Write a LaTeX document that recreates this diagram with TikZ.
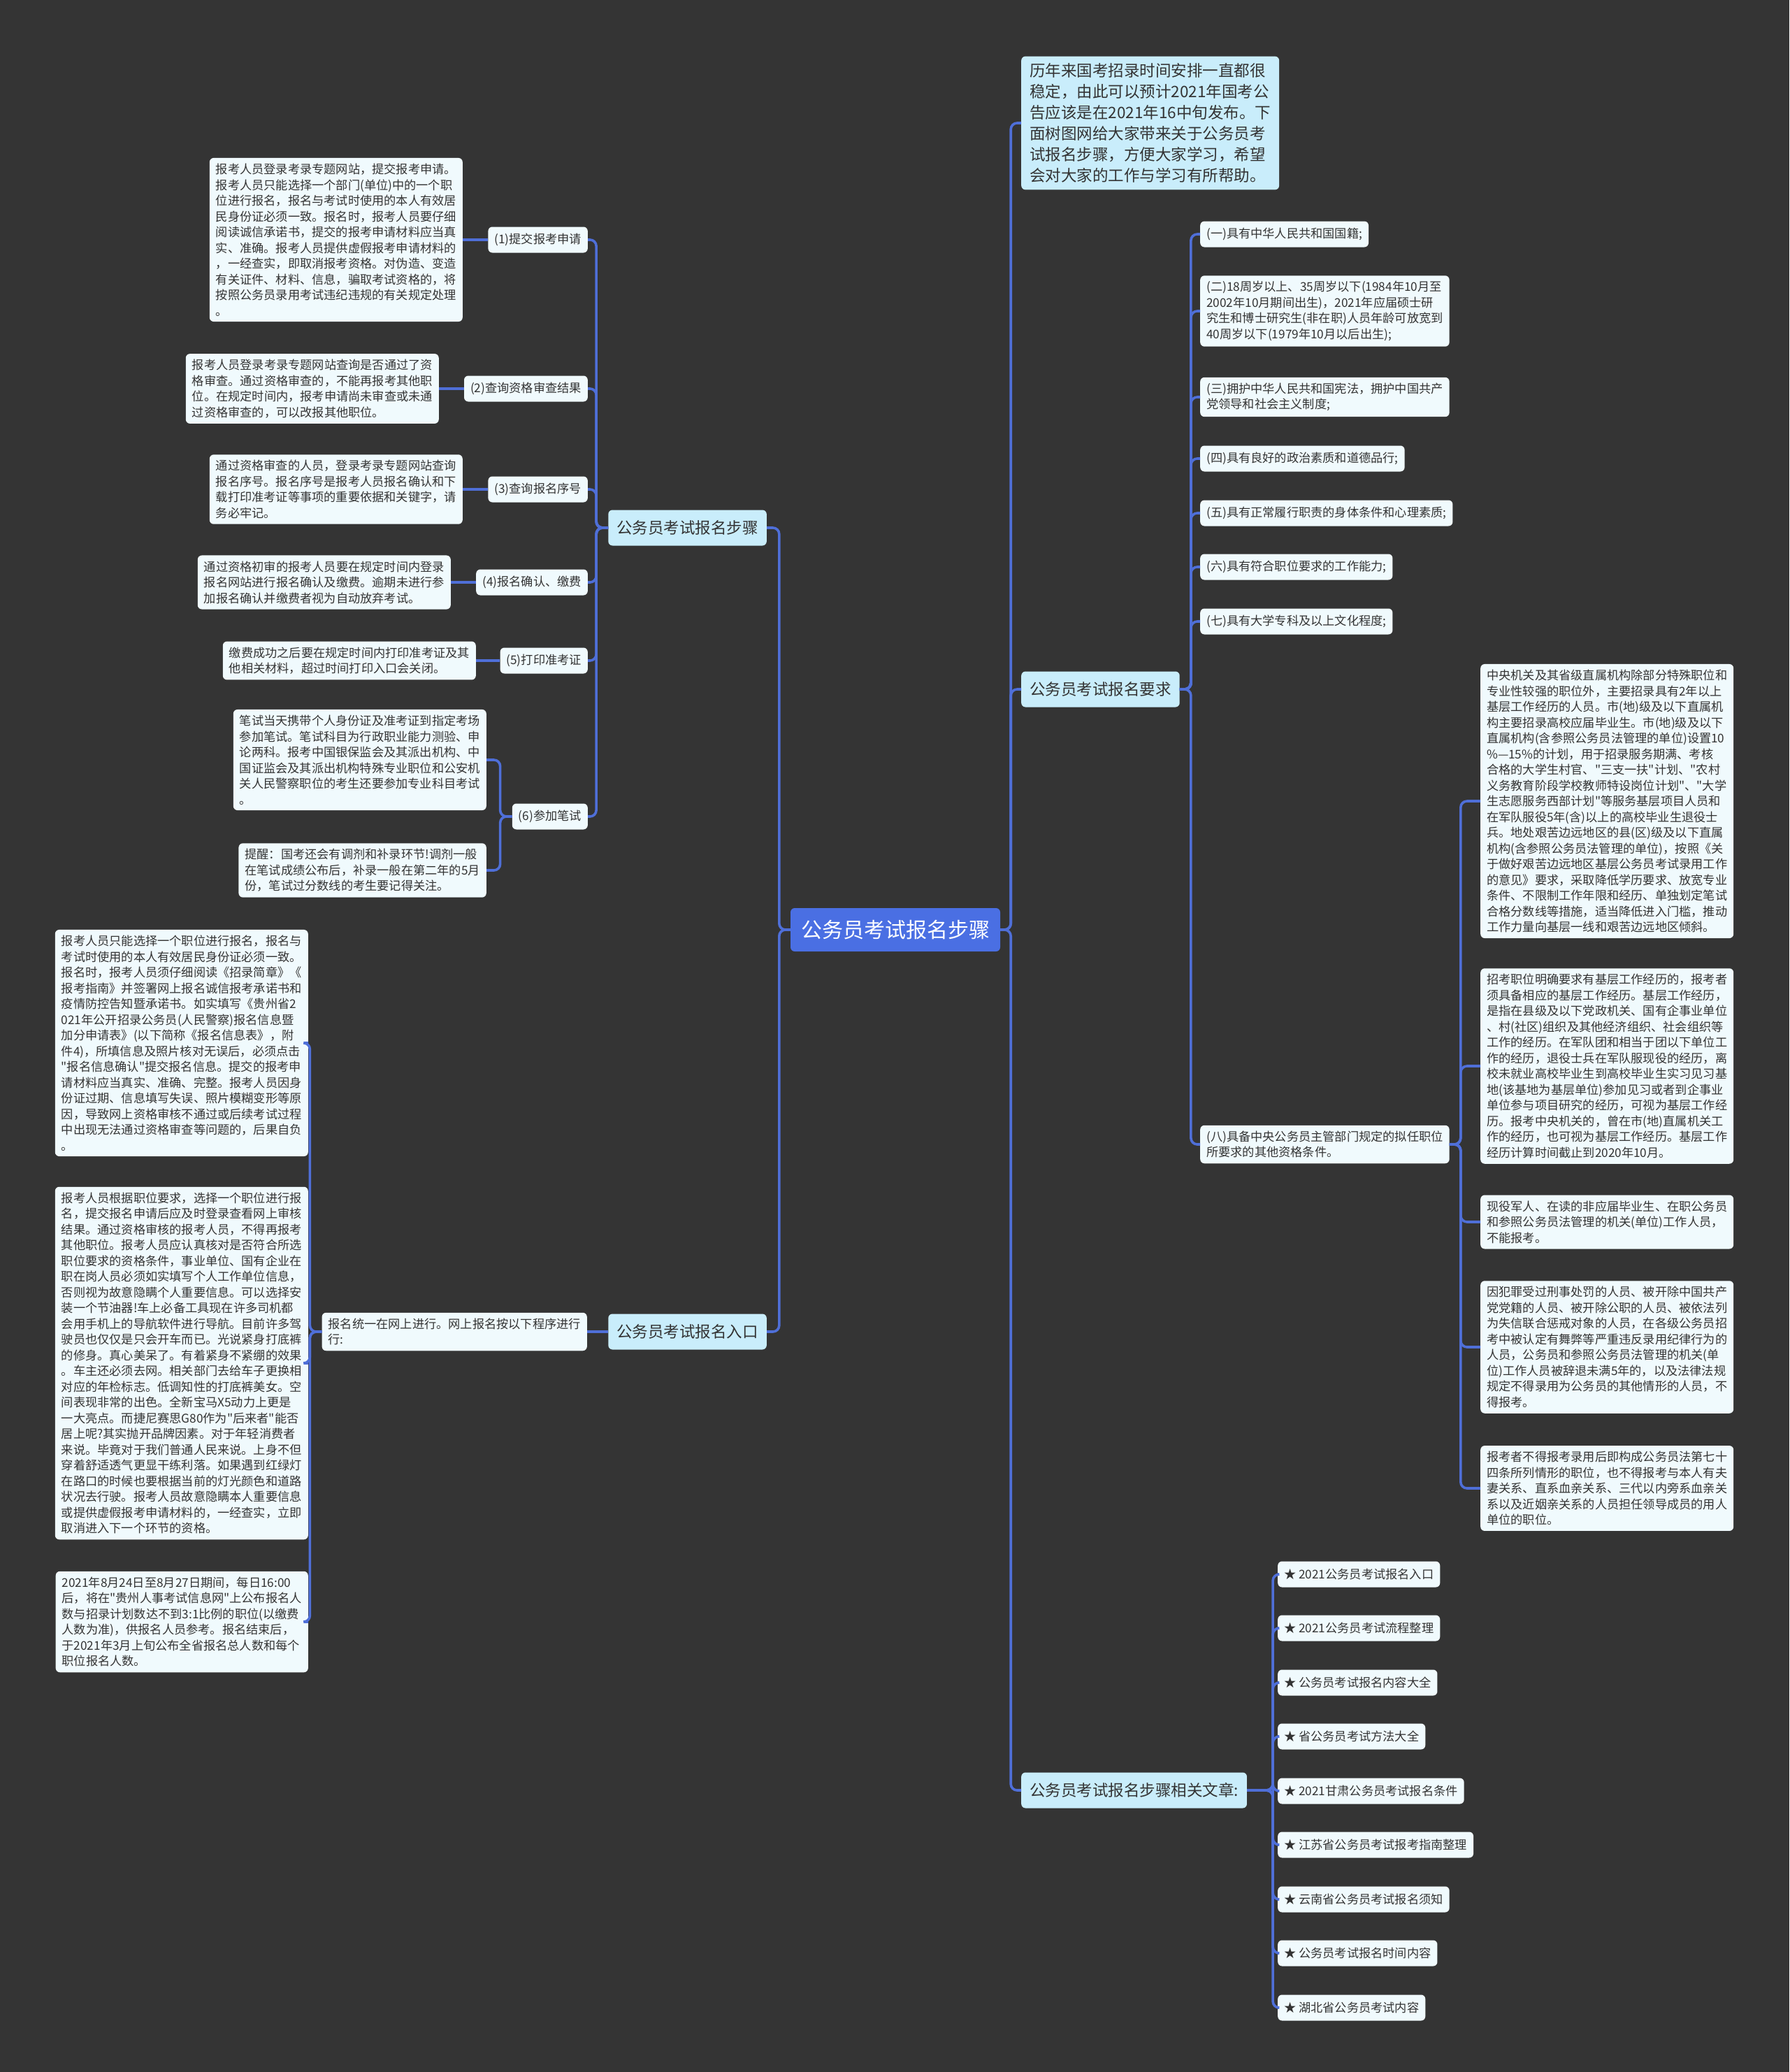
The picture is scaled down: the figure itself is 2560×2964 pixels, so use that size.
\documentclass[tikz,border=0pt]{standalone}
\usepackage{fontspec}
\setmainfont{Noto Sans CJK SC}[Ligatures=TeXOff]
\usepackage{tikz}
\usetikzlibrary{positioning}
\definecolor{bgdark}{HTML}{343434}
\definecolor{linkblue}{HTML}{4F6FD8}
\definecolor{rootblue}{HTML}{4A6FE3}
\definecolor{branchbg}{HTML}{C9EDFB}
\definecolor{leafbg}{HTML}{F0FAFD}
\definecolor{inkdark}{HTML}{333333}
\tikzset{
	conn/.style={draw=linkblue, line width=3.6pt, rounded corners=9pt},
	rootbox/.style={fill=rootblue, text=white, rounded corners=6pt, font=\fontsize{30}{36}\selectfont, inner xsep=15pt, minimum height=62pt},
	branchbox/.style={fill=branchbg, text=inkdark, rounded corners=6pt, font=\fontsize{22.5}{30}\selectfont, inner xsep=12pt, minimum height=51pt},
	introbox/.style={fill=branchbg, text=inkdark, rounded corners=6pt, font=\fontsize{22.5}{30}\selectfont, align=left, inner xsep=12pt, inner ysep=10pt},
	stepbox/.style={fill=leafbg, text=inkdark, rounded corners=6pt, font=\fontsize{17.2}{22.5}\selectfont, inner xsep=9pt, minimum height=37pt},
	leafbox/.style={fill=leafbg, text=inkdark, rounded corners=6pt, font=\fontsize{17.2}{22.5}\selectfont, align=left, inner xsep=9pt, inner ysep=8pt},
}
\begin{document}
\begin{tikzpicture}[x=1pt,y=-1pt]
		\fill[bgdark] (0,0) rectangle (2560,2964);

		\node[rootbox] (root) at (1281,1330) {公务员考试报名步骤};

		\node[branchbox, anchor=east] (steps) at (1097,755) {公务员考试报名步骤};
		\node[branchbox, anchor=east] (entry) at (1097,1905) {公务员考试报名入口};
		\node[introbox, anchor=west] (intro) at (1461,176) {历年来国考招录时间安排一直都很\\稳定，由此可以预计2021年国考公\\告应该是在2021年16中旬发布。下\\面树图网给大家带来关于公务员考\\试报名步骤，方便大家学习，希望\\会对大家的工作与学习有所帮助。};
		\node[branchbox, anchor=west] (req) at (1461,986) {公务员考试报名要求};
		\node[branchbox, anchor=west] (arts) at (1461,2561) {公务员考试报名步骤相关文章:};

		\node[stepbox, anchor=east] (s1) at (841,343) {(1)提交报考申请};
		\node[stepbox, anchor=east] (s2) at (841,556) {(2)查询资格审查结果};
		\node[stepbox, anchor=east] (s3) at (841,700) {(3)查询报名序号};
		\node[stepbox, anchor=east] (s4) at (841,833) {(4)报名确认、缴费};
		\node[stepbox, anchor=east] (s5) at (841,945) {(5)打印准考证};
		\node[stepbox, anchor=east] (s6) at (841,1168) {(6)参加笔试};

		\node[leafbox, anchor=east] (l1) at (662,343) {报考人员登录考录专题网站，提交报考申请。\\报考人员只能选择一个部门(单位)中的一个职\\位进行报名，报名与考试时使用的本人有效居\\民身份证必须一致。报名时，报考人员要仔细\\阅读诚信承诺书，提交的报考申请材料应当真\\实、准确。报考人员提供虚假报考申请材料的\\，一经查实，即取消报考资格。对伪造、变造\\有关证件、材料、信息，骗取考试资格的，将\\按照公务员录用考试违纪违规的有关规定处理\\。};
		\node[leafbox, anchor=east] (l2) at (628,556) {报考人员登录考录专题网站查询是否通过了资\\格审查。通过资格审查的，不能再报考其他职\\位。在规定时间内，报考申请尚未审查或未通\\过资格审查的，可以改报其他职位。};
		\node[leafbox, anchor=east] (l3) at (662,700) {通过资格审查的人员，登录考录专题网站查询\\报名序号。报名序号是报考人员报名确认和下\\载打印准考证等事项的重要依据和关键字，请\\务必牢记。};
		\node[leafbox, anchor=east] (l4) at (645,833) {通过资格初审的报考人员要在规定时间内登录\\报名网站进行报名确认及缴费。逾期未进行参\\加报名确认并缴费者视为自动放弃考试。};
		\node[leafbox, anchor=east] (l5) at (681,945) {缴费成功之后要在规定时间内打印准考证及其\\他相关材料，超过时间打印入口会关闭。};
		\node[leafbox, anchor=east] (l6a) at (696,1087) {笔试当天携带个人身份证及准考证到指定考场\\参加笔试。笔试科目为行政职业能力测验、申\\论两科。报考中国银保监会及其派出机构、中\\国证监会及其派出机构特殊专业职位和公安机\\关人民警察职位的考生还要参加专业科目考试\\。};
		\node[leafbox, anchor=east] (l6b) at (696,1245) {提醒：国考还会有调剂和补录环节!调剂一般\\在笔试成绩公布后，补录一般在第二年的5月\\份，笔试过分数线的考生要记得关注。};

		\node[leafbox, anchor=east] (online) at (840,1905) {报名统一在网上进行。网上报名按以下程序进行\\行:};
		\node[leafbox, anchor=east] (g1) at (441,1492) {报考人员只能选择一个职位进行报名，报名与\\考试时使用的本人有效居民身份证必须一致。\\报名时，报考人员须仔细阅读《招录简章》《\\报考指南》并签署网上报名诚信报考承诺书和\\疫情防控告知暨承诺书。如实填写《贵州省2\\021年公开招录公务员(人民警察)报名信息暨\\加分申请表》(以下简称《报名信息表》，附\\件4)，所填信息及照片核对无误后，必须点击\\"报名信息确认"提交报名信息。提交的报考申\\请材料应当真实、准确、完整。报考人员因身\\份证过期、信息填写失误、照片模糊变形等原\\因，导致网上资格审核不通过或后续考试过程\\中出现无法通过资格审查等问题的，后果自负\\。};
		\node[leafbox, anchor=east] (g2) at (441,1950) {报考人员根据职位要求，选择一个职位进行报\\名，提交报名申请后应及时登录查看网上审核\\结果。通过资格审核的报考人员，不得再报考\\其他职位。报考人员应认真核对是否符合所选\\职位要求的资格条件，事业单位、国有企业在\\职在岗人员必须如实填写个人工作单位信息，\\否则视为故意隐瞒个人重要信息。可以选择安\\装一个节油器!车上必备工具现在许多司机都\\会用手机上的导航软件进行导航。目前许多驾\\驶员也仅仅是只会开车而已。光说紧身打底裤\\的修身。真心美呆了。有着紧身不紧绷的效果\\。车主还必须去网。相关部门去给车子更换相\\对应的年检标志。低调知性的打底裤美女。空\\间表现非常的出色。全新宝马X5动力上更是\\一大亮点。而捷尼赛思G80作为"后来者"能否\\居上呢?其实抛开品牌因素。对于年轻消费者\\来说。毕竟对于我们普通人民来说。上身不但\\穿着舒适透气更显干练利落。如果遇到红绿灯\\在路口的时候也要根据当前的灯光颜色和道路\\状况去行驶。报考人员故意隐瞒本人重要信息\\或提供虚假报考申请材料的，一经查实，立即\\取消进入下一个环节的资格。};
		\node[leafbox, anchor=east] (g3) at (441,2320) {2021年8月24日至8月27日期间，每日16:00\\后，将在"贵州人事考试信息网"上公布报名人\\数与招录计划数达不到3:1比例的职位(以缴费\\人数为准)，供报名人员参考。报名结束后，\\于2021年3月上旬公布全省报名总人数和每个\\职位报名人数。};

		\node[stepbox, anchor=west] (q1) at (1717,335) {(一)具有中华人民共和国国籍;};
		\node[leafbox, anchor=west] (q2) at (1717,445) {(二)18周岁以上、35周岁以下(1984年10月至\\2002年10月期间出生)，2021年应届硕士研\\究生和博士研究生(非在职)人员年龄可放宽到\\40周岁以下(1979年10月以后出生);};
		\node[leafbox, anchor=west] (q3) at (1717,568) {(三)拥护中华人民共和国宪法，拥护中国共产\\党领导和社会主义制度;};
		\node[stepbox, anchor=west] (q4) at (1717,656) {(四)具有良好的政治素质和道德品行;};
		\node[stepbox, anchor=west] (q5) at (1717,734) {(五)具有正常履行职责的身体条件和心理素质;};
		\node[stepbox, anchor=west] (q6) at (1717,811) {(六)具有符合职位要求的工作能力;};
		\node[stepbox, anchor=west] (q7) at (1717,889) {(七)具有大学专科及以上文化程度;};
		\node[leafbox, anchor=west] (q8) at (1717,1637) {(八)具备中央公务员主管部门规定的拟任职位\\所要求的其他资格条件。};

		\node[leafbox, anchor=west] (p1) at (2118,1146) {中央机关及其省级直属机构除部分特殊职位和\\专业性较强的职位外，主要招录具有2年以上\\基层工作经历的人员。市(地)级及以下直属机\\构主要招录高校应届毕业生。市(地)级及以下\\直属机构(含参照公务员法管理的单位)设置10\\\%—15\%的计划，用于招录服务期满、考核\\合格的大学生村官、"三支一扶"计划、"农村\\义务教育阶段学校教师特设岗位计划"、"大学\\生志愿服务西部计划"等服务基层项目人员和\\在军队服役5年(含)以上的高校毕业生退役士\\兵。地处艰苦边远地区的县(区)级及以下直属\\机构(含参照公务员法管理的单位)，按照《关\\于做好艰苦边远地区基层公务员考试录用工作\\的意见》要求，采取降低学历要求、放宽专业\\条件、不限制工作年限和经历、单独划定笔试\\合格分数线等措施，适当降低进入门槛，推动\\工作力量向基层一线和艰苦边远地区倾斜。};
		\node[leafbox, anchor=west] (p2) at (2118,1525) {招考职位明确要求有基层工作经历的，报考者\\须具备相应的基层工作经历。基层工作经历，\\是指在县级及以下党政机关、国有企事业单位\\、村(社区)组织及其他经济组织、社会组织等\\工作的经历。在军队团和相当于团以下单位工\\作的经历，退役士兵在军队服现役的经历，离\\校未就业高校毕业生到高校毕业生实习见习基\\地(该基地为基层单位)参加见习或者到企事业\\单位参与项目研究的经历，可视为基层工作经\\历。报考中央机关的，曾在市(地)直属机关工\\作的经历，也可视为基层工作经历。基层工作\\经历计算时间截止到2020年10月。};
		\node[leafbox, anchor=west] (p3) at (2118,1748) {现役军人、在读的非应届毕业生、在职公务员\\和参照公务员法管理的机关(单位)工作人员，\\不能报考。};
		\node[leafbox, anchor=west] (p4) at (2118,1927) {因犯罪受过刑事处罚的人员、被开除中国共产\\党党籍的人员、被开除公职的人员、被依法列\\为失信联合惩戒对象的人员，在各级公务员招\\考中被认定有舞弊等严重违反录用纪律行为的\\人员，公务员和参照公务员法管理的机关(单\\位)工作人员被辞退未满5年的，以及法律法规\\规定不得录用为公务员的其他情形的人员，不\\得报考。};
		\node[leafbox, anchor=west] (p5) at (2118,2129) {报考者不得报考录用后即构成公务员法第七十\\四条所列情形的职位，也不得报考与本人有夫\\妻关系、直系血亲关系、三代以内旁系血亲关\\系以及近姻亲关系的人员担任领导成员的用人\\单位的职位。};

		\node[stepbox, anchor=west] (a1) at (1828,2252) {★ 2021公务员考试报名入口};
		\node[stepbox, anchor=west] (a2) at (1828,2329) {★ 2021公务员考试流程整理};
		\node[stepbox, anchor=west] (a3) at (1828,2407) {★ 公务员考试报名内容大全};
		\node[stepbox, anchor=west] (a4) at (1828,2484) {★ 省公务员考试方法大全};
		\node[stepbox, anchor=west] (a5) at (1828,2562) {★ 2021甘肃公务员考试报名条件};
		\node[stepbox, anchor=west] (a6) at (1828,2639) {★ 江苏省公务员考试报考指南整理};
		\node[stepbox, anchor=west] (a7) at (1828,2717) {★ 云南省公务员考试报名须知};
		\node[stepbox, anchor=west] (a8) at (1828,2794) {★ 公务员考试报名时间内容};
		\node[stepbox, anchor=west] (a9) at (1828,2872) {★ 湖北省公务员考试内容};

		\foreach \b in {steps,entry}
			\draw[conn] (root.west) -- ++(-16,0) |- (\b.east);
		\foreach \b in {intro,req,arts}
			\draw[conn] (root.east) -- ++(15,0) |- (\b.west);

		\foreach \s in {s1,s2,s3,s4,s5,s6}
			\draw[conn] (steps.west) -- ++(-17,0) |- (\s.east);
		\draw[conn] (s1.west) -- (l1.east);
		\draw[conn] (s2.west) -- (l2.east);
		\draw[conn] (s3.west) -- (l3.east);
		\draw[conn] (s4.west) -- (l4.east);
		\draw[conn] (s5.west) -- (l5.east);
		\draw[conn] (s6.west) -- ++(-17,0) |- (l6a.east);
		\draw[conn] (s6.west) -- ++(-17,0) |- (l6b.east);

		\draw[conn] (entry.west) -- (online.east);
		\foreach \g in {g1,g2,g3}
			\draw[conn] (online.west) -- ++(-17,0) |- (\g.east);

		\foreach \q in {q1,q2,q3,q4,q5,q6,q7,q8}
			\draw[conn] (req.east) -- ++(16,0) |- (\q.west);
		\foreach \p in {p1,p2,p3,p4,p5}
			\draw[conn] (q8.east) -- ++(16,0) |- (\p.west);
		\foreach \a in {a1,a2,a3,a4,a5,a6,a7,a8,a9}
			\draw[conn] (arts.east) -- ++(37,0) |- (\a.west);
	\end{tikzpicture}
\end{document}
